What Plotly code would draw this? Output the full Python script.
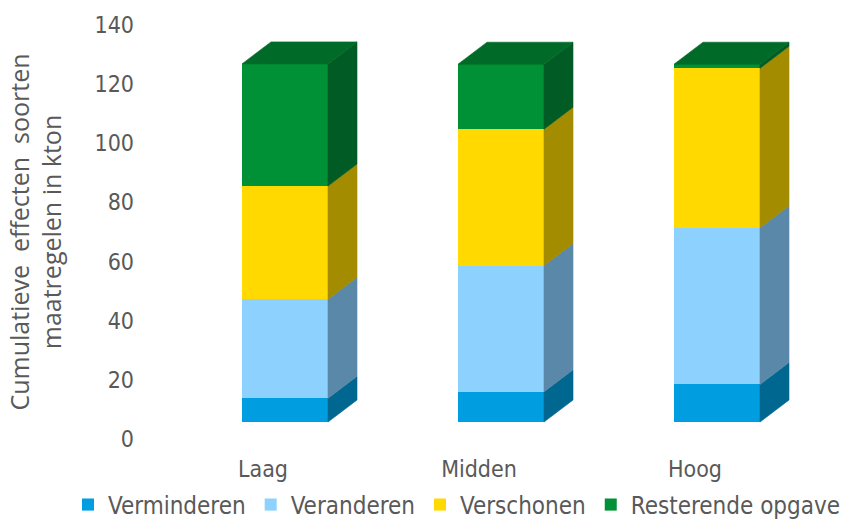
import plotly.graph_objects as go

# ---- data ----
categories = ["Laag", "Midden", "Hoog"]
series_names = ["Verminderen", "Veranderen", "Verschonen", "Resterende opgave"]
verminderen = [8.0, 10.2, 12.7]
veranderen = [33.5, 42.7, 53.0]
verschonen = [38.3, 46.1, 53.9]
resterende_opgave = [41.3, 22.0, 1.4]
y_ticks = [0, 20, 40, 60, 80, 100, 120, 140]
y_title = "Cumulatieve\u00a0 effecten\u00a0 soorten<br>maatregelen in kton"

series_values = [verminderen, veranderen, verschonen, resterende_opgave]

# ---- style ----
front_colors = ["#009EE0", "#8DD2FF", "#FFD900", "#009035"]
side_colors = ["#006791", "#5A88A8", "#A38C00", "#005C24"]
top_colors = ["#0080B8", "#74AED4", "#D0B000", "#006B28"]
FONT = "DejaVu Sans Condensed, DejaVu Sans, sans-serif"
TXT = "#595959"

W, H = 849, 522
ML, MR, MT, MB = 155, 46, 25, 83
plot_w = W - ML - MR
plot_h = H - MT - MB
x_range = [-0.5, 2.5]
y_range = [0, 140]
px_per_x = plot_w / (x_range[1] - x_range[0])
px_per_y = plot_h / (y_range[1] - y_range[0])

# oblique-projection offsets (pixels)
front_dx_px, front_dy_px = 22, 17   # bar front face behind the axis floor
depth_dx_px, depth_dy_px = 29, 22   # depth of each column
bar_w = 86 / px_per_x

ox = front_dx_px / px_per_x
oy = front_dy_px / px_per_y
ddx = depth_dx_px / px_per_x
ddy = depth_dy_px / px_per_y

fig = go.Figure()
xs = list(range(len(categories)))

# anchor trace for the visible category/value axes (draws nothing)
fig.add_trace(go.Scatter(x=xs, y=[None] * len(xs), mode="markers",
                         showlegend=False, hoverinfo="skip"))

# front faces (stacked bars on the shifted axes)
for name, vals, col in zip(series_names, series_values, front_colors):
    fig.add_trace(go.Bar(
        x=xs, y=vals, name=name, width=bar_w,
        marker=dict(color=col, line=dict(width=0)),
        xaxis="x2", yaxis="y2", hoverinfo="skip",
    ))

# side faces and top face
for i in xs:
    base = 0.0
    xl = i - bar_w / 2
    xr = i + bar_w / 2
    top_idx = None
    for j, vals in enumerate(series_values):
        v = vals[i]
        if v <= 0:
            continue
        t = base + v
        fig.add_trace(go.Scatter(
            x=[xr, xr + ddx, xr + ddx, xr, xr],
            y=[base, base + ddy, t + ddy, t, base],
            mode="lines", fill="toself", fillcolor=side_colors[j],
            line=dict(width=0.6, color=side_colors[j]),
            xaxis="x2", yaxis="y2", showlegend=False, hoverinfo="skip",
        ))
        base = t
        top_idx = j
    fig.add_trace(go.Scatter(
        x=[xl, xl + ddx, xr + ddx, xr, xl],
        y=[base, base + ddy, base + ddy, base, base],
        mode="lines", fill="toself", fillcolor=top_colors[top_idx],
        line=dict(width=0.6, color=top_colors[top_idx]),
        xaxis="x2", yaxis="y2", showlegend=False, hoverinfo="skip",
    ))

fig.update_layout(
    width=W, height=H,
    margin=dict(l=ML, r=MR, t=MT, b=MB, autoexpand=False),
    paper_bgcolor="white", plot_bgcolor="white",
    barmode="stack",
    font=dict(family=FONT, color=TXT, size=23),
    xaxis=dict(
        range=x_range, tickvals=xs, ticktext=categories,
        showgrid=False, zeroline=False, showline=False, ticks="",
        ticklabelstandoff=14, tickfont=dict(size=23, color=TXT),
        fixedrange=True, automargin=False,
    ),
    yaxis=dict(
        range=y_range, tickvals=y_ticks,
        showgrid=False, zeroline=False, showline=False, ticks="",
        ticklabelstandoff=20, tickfont=dict(size=23, color=TXT),
        fixedrange=True, automargin=False,
        title=dict(text=y_title,
                   font=dict(family="Open Sans, sans-serif", size=25, color=TXT),
                   standoff=25),
    ),
    xaxis2=dict(range=[x_range[0] - ox, x_range[1] - ox], overlaying="x",
                visible=False, fixedrange=True),
    yaxis2=dict(range=[y_range[0] - oy, y_range[1] - oy], overlaying="y",
                visible=False, fixedrange=True),
    legend=dict(
        orientation="h", traceorder="normal",
        x=(68 - ML) / plot_w, xanchor="left",
        y=-(505 - (H - MB)) / plot_h, yanchor="middle",
        font=dict(size=24, color=TXT), itemwidth=30,
    ),
    showlegend=True,
)

fig.write_html("out.html")
